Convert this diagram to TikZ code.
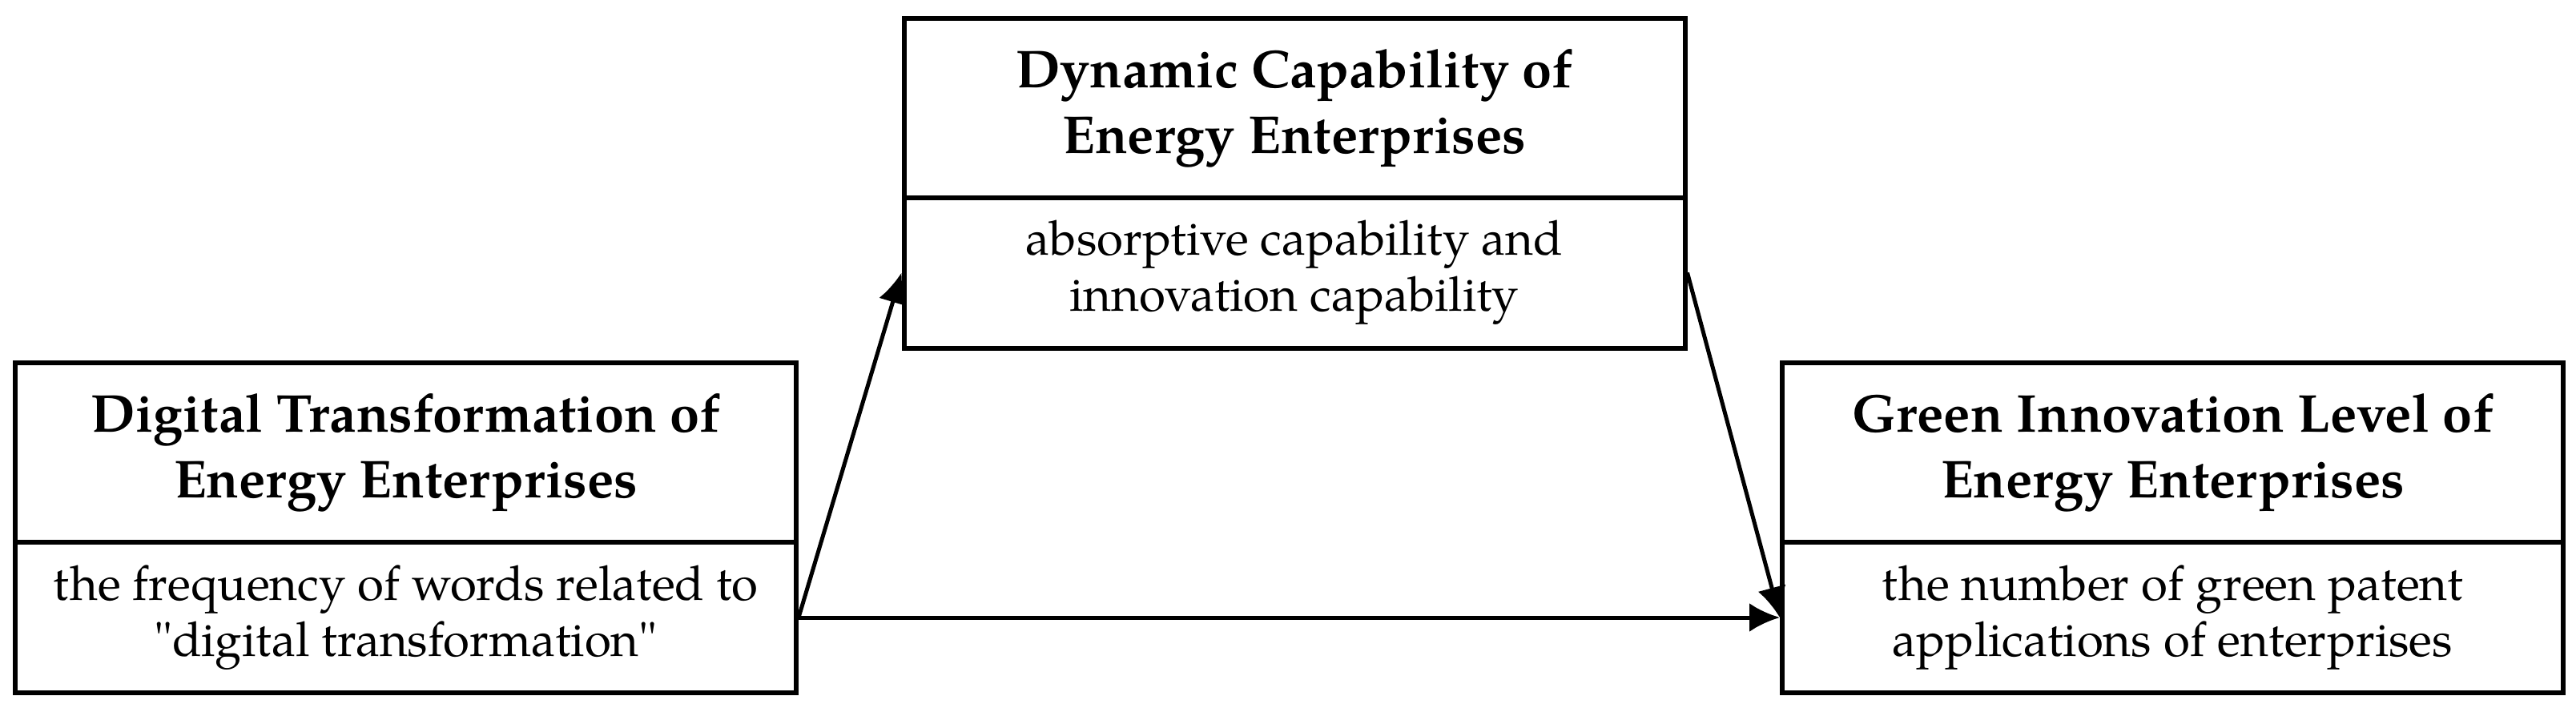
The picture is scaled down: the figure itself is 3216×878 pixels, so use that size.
\documentclass[tikz,border=0pt]{standalone}
\usepackage{fontspec}
\setmainfont{texgyrepagella}[Extension=.otf,UprightFont=*-regular,BoldFont=*-bold]
\usetikzlibrary{arrows.meta}
\begin{document}
\begin{tikzpicture}[x=0.5pt,y=-0.5pt]
  \useasboundingbox (0,0) rectangle (3216,878);
  \begin{scope}[every node/.style={draw,line width=3pt,minimum width=487.5pt,align=center,inner sep=0pt}]
    \node[minimum height=112pt,font=\fontsize{33.3}{41}\selectfont\bfseries] (DT) at (506.5,565) {Digital Transformation of\\Energy Enterprises};
    \node[minimum height=94pt,font=\fontsize{30}{35}\selectfont] (DTb) at (506.5,771) {the frequency of words related to\\\textquotedbl digital transformation\textquotedbl};
    \node[minimum height=112pt,font=\fontsize{33.3}{41}\selectfont\bfseries] (DC) at (1616,135) {Dynamic Capability of\\Energy Enterprises};
    \node[minimum height=94pt,font=\fontsize{30}{35}\selectfont] (DCb) at (1616,340.5) {absorptive capability and\\innovation capability};
    \node[minimum height=112pt,font=\fontsize{33.3}{41}\selectfont\bfseries] (GI) at (2712.5,565) {Green Innovation Level of\\Energy Enterprises};
    \node[minimum height=94pt,font=\fontsize{30}{35}\selectfont] (GIb) at (2712.5,771) {the number of green patent\\applications of enterprises};
  \end{scope}

  \begin{scope}[line width=2.5pt]
    \path[-{Latex[length=19pt,width=18pt]}] (DTb.east) edge (DCb.west) edge (GIb.west);
    \path[-{Latex[length=19pt,width=18pt]}] (DCb.east) edge (GIb.west);
  \end{scope}
\end{tikzpicture}
\end{document}
